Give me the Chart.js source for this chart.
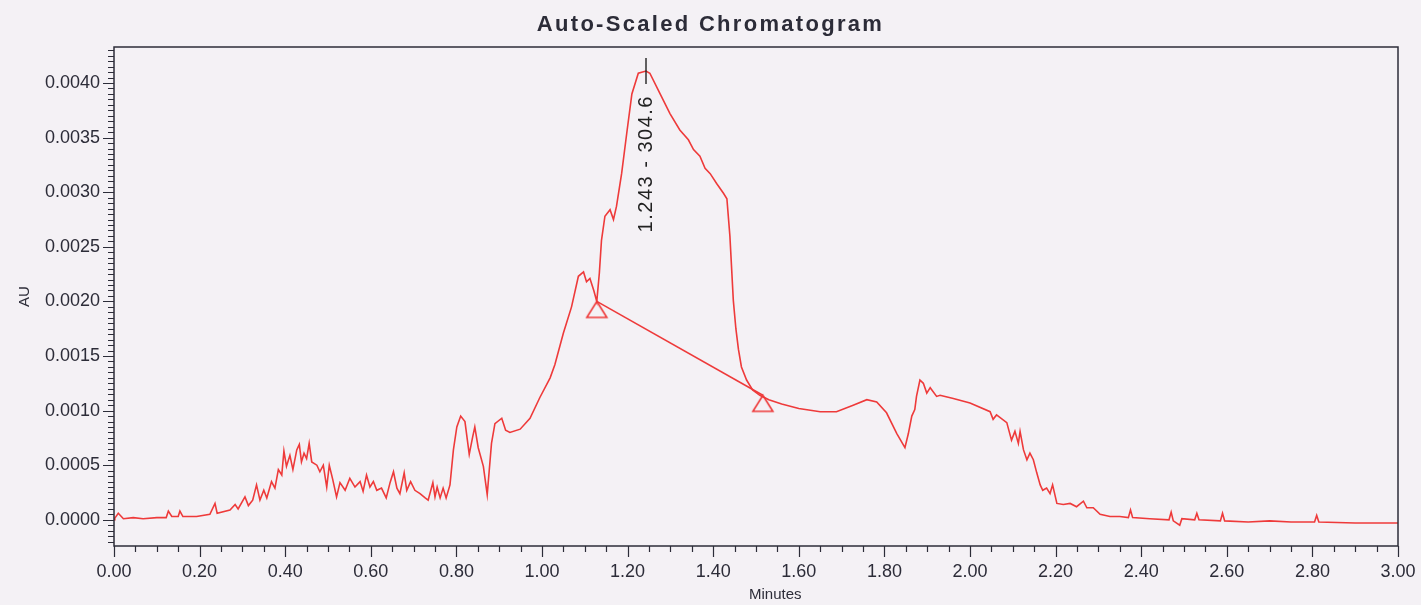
<!DOCTYPE html>
<html>
<head>
<meta charset="utf-8">
<title>Auto-Scaled Chromatogram</title>
<script src="https://cdn.jsdelivr.net/npm/chart.js@4.4.1/dist/chart.umd.min.js"></script>
<style>
  html, body { margin: 0; padding: 0; background: #f4f1f5; }
  #chrom { display: block; }
</style>
</head>
<body>
<canvas id="chrom" width="1421" height="605"></canvas>
<script>
// retention time (min) and absorbance (AU)
const times = [
  0.000, 0.002, 0.010, 0.022, 0.045, 0.068, 0.100, 0.122, 0.127, 0.135,
  0.150, 0.154, 0.161, 0.193, 0.224, 0.236, 0.241, 0.271, 0.283, 0.290,
  0.306, 0.314, 0.324, 0.333, 0.341, 0.350, 0.357, 0.368, 0.376, 0.384,
  0.392, 0.397, 0.403, 0.411, 0.418, 0.427, 0.433, 0.438, 0.444, 0.450,
  0.456, 0.462, 0.474, 0.481, 0.489, 0.497, 0.503, 0.511, 0.520, 0.528,
  0.540, 0.551, 0.563, 0.575, 0.582, 0.590, 0.598, 0.606, 0.614, 0.625,
  0.636, 0.645, 0.653, 0.661, 0.668, 0.678, 0.684, 0.693, 0.703, 0.715,
  0.727, 0.734, 0.745, 0.750, 0.755, 0.762, 0.769, 0.776, 0.785, 0.793,
  0.801, 0.810, 0.820, 0.830, 0.838, 0.843, 0.851, 0.863, 0.872, 0.882,
  0.890, 0.906, 0.915, 0.925, 0.949, 0.972, 0.995, 1.019, 1.030, 1.050,
  1.069, 1.085, 1.097, 1.104, 1.112, 1.121, 1.128, 1.134, 1.139, 1.147,
  1.159, 1.167, 1.174, 1.186, 1.198, 1.210, 1.225, 1.243, 1.252, 1.276,
  1.299, 1.322, 1.342, 1.354, 1.369, 1.381, 1.393, 1.408, 1.424, 1.432,
  1.439, 1.447, 1.453, 1.459, 1.466, 1.478, 1.492, 1.509, 1.530, 1.560,
  1.600, 1.650, 1.688, 1.727, 1.759, 1.782, 1.805, 1.829, 1.848, 1.856,
  1.864, 1.871, 1.875, 1.883, 1.891, 1.899, 1.907, 1.922, 1.930, 1.961,
  2.000, 2.047, 2.054, 2.062, 2.086, 2.097, 2.105, 2.113, 2.117, 2.125,
  2.133, 2.140, 2.148, 2.156, 2.164, 2.170, 2.179, 2.187, 2.193, 2.203,
  2.218, 2.234, 2.249, 2.265, 2.273, 2.288, 2.304, 2.327, 2.350, 2.370,
  2.375, 2.380, 2.420, 2.465, 2.470, 2.475, 2.490, 2.495, 2.525, 2.530,
  2.535, 2.585, 2.590, 2.595, 2.650, 2.700, 2.750, 2.805, 2.810, 2.815,
  2.900, 3.000
];
const absorbance = [
  0.00000, 0.000015, 0.00006, 0.00001, 0.00002, 0.00001, 0.00002, 0.00002, 0.00008, 0.00003,
  0.00003, 0.00008, 0.00003, 0.00003, 0.00005, 0.00015, 0.00006, 0.00009, 0.00014, 0.00010,
  0.00021, 0.00013, 0.00018, 0.00032, 0.00018, 0.00027, 0.00020, 0.00035, 0.00029, 0.00046,
  0.00041, 0.00063, 0.00049, 0.00059, 0.00046, 0.00064, 0.00069, 0.00053, 0.00061, 0.00056,
  0.00070, 0.00053, 0.00050, 0.00044, 0.00050, 0.00030, 0.00050, 0.00037, 0.00021, 0.00034,
  0.00027, 0.00038, 0.00030, 0.00035, 0.00026, 0.00041, 0.00030, 0.00035, 0.00027, 0.00029,
  0.00020, 0.00034, 0.00044, 0.00029, 0.00024, 0.00043, 0.00027, 0.00035, 0.00027, 0.00024,
  0.00020, 0.00018, 0.00034, 0.00021, 0.00030, 0.00020, 0.00029, 0.00020, 0.00032, 0.00064,
  0.00085, 0.00095, 0.00090, 0.00060, 0.00076, 0.00085, 0.00066, 0.00049, 0.00023, 0.00070,
  0.00088, 0.00093, 0.00082, 0.00080, 0.00083, 0.00093, 0.00112, 0.00130, 0.00142, 0.00171,
  0.00195, 0.00223, 0.00227, 0.00218, 0.00221, 0.00210, 0.00200, 0.00226, 0.00256, 0.00278,
  0.00284, 0.00275, 0.00287, 0.00317, 0.00354, 0.00390, 0.00409, 0.00411, 0.00409, 0.00390,
  0.00372, 0.00357, 0.00348, 0.00339, 0.00333, 0.00322, 0.00317, 0.00308, 0.00299, 0.00294,
  0.00260, 0.00201, 0.00175, 0.00156, 0.00140, 0.00128, 0.00119, 0.00114, 0.00110, 0.00106,
  0.00102, 0.00099, 0.00099, 0.00105, 0.00110, 0.00108, 0.00098, 0.00079, 0.00066, 0.00079,
  0.00095, 0.00101, 0.00113, 0.00128, 0.00125, 0.00116, 0.00121, 0.00113, 0.00114, 0.00111,
  0.00107, 0.00099, 0.00092, 0.00096, 0.00089, 0.00073, 0.00081, 0.00070, 0.00081, 0.00064,
  0.00055, 0.00061, 0.00055, 0.00043, 0.00032, 0.00027, 0.00029, 0.00024, 0.00032, 0.00015,
  0.00014, 0.00015, 0.00012, 0.00017, 0.00011, 0.00011, 0.00005, 0.00003, 0.00003, 0.00002,
  0.00009, 0.00002, 0.00001, 0.00000, 0.00007, -0.00001, -0.00005, 0.00001, 0.00000, 0.00006,
  0.00000, -0.00001, 0.00006, -0.00001, -0.00002, -0.00001, -0.00002, -0.00002, 0.00004, -0.00002,
  -0.00003, -0.00003
];

// integration baseline drawn under the main peak
const baselineTimes = [1.128, 1.516];
const baselineValues = [0.00200, 0.00114];

// peak label
const peakTime = 1.243;
const peakValue = 0.00411;
const peakLabel = '1.243 - 304.6';

const xTickValues = [0, 0.2, 0.4, 0.6, 0.8, 1.0, 1.2, 1.4, 1.6, 1.8, 2.0, 2.2, 2.4, 2.6, 2.8, 3.0];
const yTickValues = [0, 0.0005, 0.0010, 0.0015, 0.0020, 0.0025, 0.0030, 0.0035, 0.0040];
const xTitle = 'Minutes';
const xTitleAt = 1.545;

const RED = '#ee3a3a';
const INK = '#2c2c38';
const FONT = "'Liberation Sans', Arial, sans-serif";

// open triangle hanging below its point
function makeTriangle() {
  const c = document.createElement('canvas');
  c.width = 24; c.height = 38;
  const g = c.getContext('2d');
  g.strokeStyle = RED;
  g.lineWidth = 1.6;
  g.beginPath();
  g.moveTo(12, 19);
  g.lineTo(22, 35);
  g.lineTo(2, 35);
  g.closePath();
  g.stroke();
  return c;
}

const frameTicks = {
  id: 'frameTicks',
  afterDraw(chart) {
    const { ctx, chartArea: a, scales: { x, y } } = chart;
    ctx.save();
    ctx.strokeStyle = INK;
    ctx.lineWidth = 1.5;
    ctx.strokeRect(a.left, a.top, a.right - a.left, a.bottom - a.top);
    ctx.lineWidth = 1.2;
    ctx.beginPath();
    for (let i = 0; i <= 60; i++) {
      const px = Math.round(x.getPixelForValue(i * 0.05)) + 0.5;
      const len = i % 4 === 0 ? 11 : 6;
      ctx.moveTo(px, a.bottom);
      ctx.lineTo(px, a.bottom + len);
    }
    for (let i = -4; i <= 86; i++) {
      const py = Math.round(y.getPixelForValue(i * 0.00005)) + 0.5;
      if (py < a.top || py > a.bottom) continue;
      const len = i % 10 === 0 ? 11 : 6;
      ctx.moveTo(a.left, py);
      ctx.lineTo(a.left - len, py);
    }
    ctx.stroke();
    ctx.restore();
  }
};

const peakMark = {
  id: 'peakMark',
  afterDatasetsDraw(chart) {
    const { ctx, scales: { x, y } } = chart;
    const px = x.getPixelForValue(peakTime);
    const py = y.getPixelForValue(peakValue);
    ctx.save();
    ctx.strokeStyle = '#222';
    ctx.lineWidth = 1.4;
    ctx.beginPath();
    ctx.moveTo(px, py - 13);
    ctx.lineTo(px, py + 13);
    ctx.stroke();
    ctx.translate(px, py + 24);
    ctx.rotate(-Math.PI / 2);
    ctx.font = '20px ' + FONT;
    ctx.letterSpacing = '1.5px';
    ctx.fillStyle = '#222';
    ctx.textAlign = 'right';
    ctx.textBaseline = 'middle';
    ctx.fillText(peakLabel, 0, 0);
    ctx.restore();
  }
};

const heading = {
  id: 'heading',
  afterDraw(chart) {
    const { ctx, scales: { x } } = chart;
    ctx.save();
    ctx.font = 'bold 22px ' + FONT;
    ctx.letterSpacing = '2.3px';
    ctx.fillStyle = INK;
    ctx.textAlign = 'center';
    ctx.textBaseline = 'middle';
    ctx.fillText('Auto-Scaled Chromatogram', chart.width / 2, 25);
    ctx.font = '15px ' + FONT;
    ctx.letterSpacing = '0px';
    ctx.fillText(xTitle, x.getPixelForValue(xTitleAt), 595);
    ctx.restore();
  }
};

const signal = times.map((t, i) => ({ x: t, y: absorbance[i] }));
const baseline = baselineTimes.map((t, i) => ({ x: t, y: baselineValues[i] }));

new Chart(document.getElementById('chrom'), {
  type: 'scatter',
  data: {
    datasets: [
      {
        data: signal,
        showLine: true,
        borderColor: RED,
        borderWidth: 1.6,
        pointRadius: 0,
        tension: 0
      },
      {
        data: baseline,
        showLine: true,
        borderColor: RED,
        borderWidth: 1.6,
        pointStyle: makeTriangle(),
        pointRadius: 5
      }
    ]
  },
  options: {
    responsive: false,
    animation: false,
    layout: { padding: { top: 47, right: 23, left: 0, bottom: 0 } },
    plugins: {
      legend: { display: false },
      tooltip: { enabled: false },
      title: { display: false }
    },
    scales: {
      x: {
        type: 'linear',
        min: 0,
        max: 3,
        afterBuildTicks: s => { s.ticks = xTickValues.map(v => ({ value: v })); },
        afterFit: s => { s.height = 59; s.paddingLeft = 0; s.paddingRight = 0; },
        ticks: {
          autoSkip: false,
          maxRotation: 0,
          padding: 15,
          color: INK,
          font: { family: FONT, size: 18 },
          callback: v => Number(v).toFixed(2)
        },
        grid: { display: false, drawTicks: false },
        border: { display: false }
      },
      y: {
        type: 'linear',
        min: -0.00024,
        max: 0.00433,
        afterBuildTicks: s => { s.ticks = yTickValues.map(v => ({ value: v })); },
        afterFit: s => { s.width = 114; },
        ticks: {
          autoSkip: false,
          padding: 14,
          color: INK,
          font: { family: FONT, size: 18 },
          callback: v => Number(v).toFixed(4)
        },
        grid: { display: false, drawTicks: false },
        border: { display: false },
        title: {
          display: true,
          text: 'AU',
          color: INK,
          font: { family: FONT, size: 15 },
          padding: { top: 16, bottom: 0 }
        }
      }
    }
  },
  plugins: [frameTicks, peakMark, heading]
});
</script>
</body>
</html>
